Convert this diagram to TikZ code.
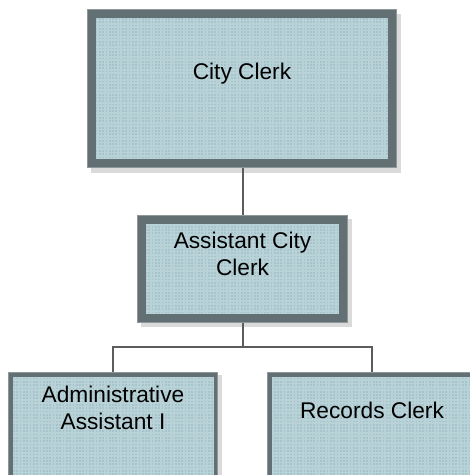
\documentclass[tikz,border=0pt]{standalone}
\usepackage{fontspec}
\setmainfont{Liberation Sans}
\usetikzlibrary{patterns}

% small square dots laid over the box fill
\pgfdeclarepatternformonly{boxdots}{\pgfqpoint{-1pt}{-1pt}}{\pgfqpoint{4pt}{4pt}}{\pgfqpoint{3.3pt}{3.3pt}}%
  {\pgfpathrectangle{\pgfqpoint{0pt}{0pt}}{\pgfqpoint{1.7pt}{1.7pt}}\pgfusepath{fill}}

\definecolor{boxfill}{HTML}{B9D2D8}
\definecolor{boxdot}{HTML}{A6C4CB}
\definecolor{boxedge}{HTML}{627074}
\definecolor{boxrim}{HTML}{8E989B}
\definecolor{boxshade}{HTML}{DADADA}
\definecolor{wire}{HTML}{5C5C5C}

\tikzset{
  orgbox/.style={rectangle, inner sep=0pt,
    preaction={fill=boxfill},
    pattern=boxdots, pattern color=boxdot,
    draw=boxedge},
  bigbox/.style={orgbox, line width=9pt, outer sep=4.5pt},
  smallbox/.style={orgbox, line width=4.5pt, outer sep=2.25pt},
  shade/.style={fill=boxshade},
  boxtext/.style={font=\fontsize{22.7}{27}\selectfont, align=center, text=black},
  wire/.style={draw=wire, line width=1.8pt}
}

\begin{document}
\begin{tikzpicture}[x=1pt, y=-1pt]
  \useasboundingbox (0,0) rectangle (470,475);
  \clip (0,0) rectangle (470,475);

  % drop shadows
  \fill[shade] (91,14) rectangle (401,173);
  \fill[shade] (141,219) rectangle (352,327);
  \fill[shade] (11,375) rectangle (222,480);
  \fill[shade] (270,375) rectangle (481,480);

  % boxes
  \node[bigbox, minimum width=301pt, minimum height=150pt] (cc) at (242,88.5) {};
  \node[bigbox, minimum width=202pt, minimum height=99pt] (acc) at (242.5,269) {};
  \node[smallbox, minimum width=205.5pt, minimum height=103.5pt] (aa) at (113,426) {};
  \node[smallbox, minimum width=205.5pt, minimum height=103.5pt] (rc) at (372,426) {};

  % light rim on the outer edge of each frame (y runs downwards here)
  \draw[boxrim, line width=1pt] ([shift={(0.5,0.5)}]cc.north west) rectangle ([shift={(-0.5,-0.5)}]cc.south east);
  \draw[boxrim, line width=1pt] ([shift={(0.5,0.5)}]acc.north west) rectangle ([shift={(-0.5,-0.5)}]acc.south east);
  \draw[boxrim, line width=0.8pt] ([shift={(0.4,0.4)}]aa.north west) rectangle ([shift={(-0.4,-0.4)}]aa.south east);
  \draw[boxrim, line width=0.8pt] ([shift={(0.4,0.4)}]rc.north west) rectangle ([shift={(-0.4,-0.4)}]rc.south east);

  % titles
  \node[boxtext] (cct) at (242,74) {City Clerk};
  \node[boxtext] (acct) at (242.5,254) {Assistant City\\Clerk};
  \node[boxtext] (aat) at (113,408) {Administrative\\Assistant I};
  \node[boxtext] (rct) at (372,410) {Records Clerk};

  % reporting lines
  \coordinate (bus) at (243,347);
  \draw[wire] ([xshift=1pt]cc.south) -- ([xshift=0.5pt]acc.north);
  \draw[wire] ([xshift=0.5pt]acc.south) -- (bus);
  \draw[wire] (aa.north) |- (bus) -| (rc.north);
\end{tikzpicture}
\end{document}
